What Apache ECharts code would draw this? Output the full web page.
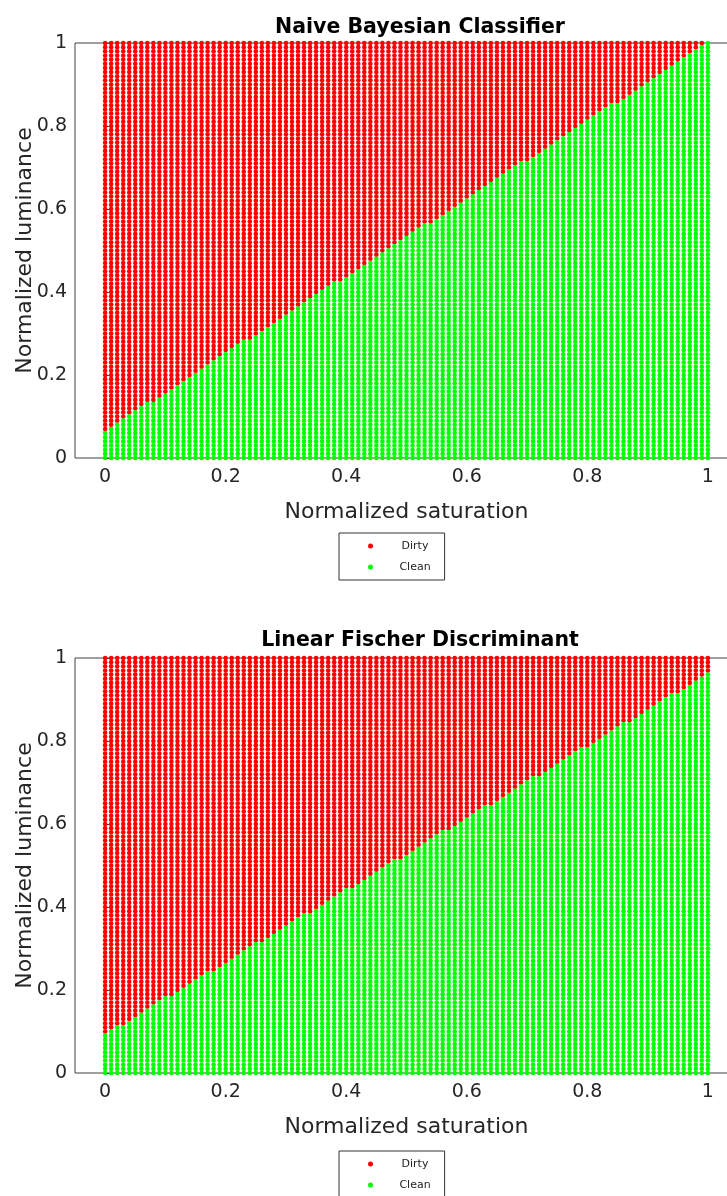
<!DOCTYPE html>
<html>
<head>
<meta charset="utf-8">
<script src="https://cdn.jsdelivr.net/npm/echarts@6/dist/echarts.min.js"></script>
<style>html,body{margin:0;padding:0;background:#fff}#c{width:727px;height:1196px}</style>
</head>
<body>
<div id="c"></div>
<script>
// Sampling grid of the feature space (normalized saturation / luminance)
const saturationGrid = [0,0.01,0.02,0.03,0.04,0.05,0.06,0.07,0.08,0.09,0.1,0.11,0.12,0.13,0.14,0.15,0.16,0.17,0.18,0.19,0.2,0.21,0.22,0.23,0.24,0.25,0.26,0.27,0.28,0.29,0.3,0.31,0.32,0.33,0.34,0.35,0.36,0.37,0.38,0.39,0.4,0.41,0.42,0.43,0.44,0.45,0.46,0.47,0.48,0.49,0.5,0.51,0.52,0.53,0.54,0.55,0.56,0.57,0.58,0.59,0.6,0.61,0.62,0.63,0.64,0.65,0.66,0.67,0.68,0.69,0.7,0.71,0.72,0.73,0.74,0.75,0.76,0.77,0.78,0.79,0.8,0.81,0.82,0.83,0.84,0.85,0.86,0.87,0.88,0.89,0.9,0.91,0.92,0.93,0.94,0.95,0.96,0.97,0.98,0.99,1];
const luminanceGrid = [0,0.01,0.02,0.03,0.04,0.05,0.06,0.07,0.08,0.09,0.1,0.11,0.12,0.13,0.14,0.15,0.16,0.17,0.18,0.19,0.2,0.21,0.22,0.23,0.24,0.25,0.26,0.27,0.28,0.29,0.3,0.31,0.32,0.33,0.34,0.35,0.36,0.37,0.38,0.39,0.4,0.41,0.42,0.43,0.44,0.45,0.46,0.47,0.48,0.49,0.5,0.51,0.52,0.53,0.54,0.55,0.56,0.57,0.58,0.59,0.6,0.61,0.62,0.63,0.64,0.65,0.66,0.67,0.68,0.69,0.7,0.71,0.72,0.73,0.74,0.75,0.76,0.77,0.78,0.79,0.8,0.81,0.82,0.83,0.84,0.85,0.86,0.87,0.88,0.89,0.9,0.91,0.92,0.93,0.94,0.95,0.96,0.97,0.98,0.99,1];
const xTickValues = [0,0.2,0.4,0.6,0.8,1];
const classNames = ['Dirty','Clean'];
const chartTitles = ['Naive Bayesian Classifier','Linear Fischer Discriminant'];
const xAxisTitle = 'Normalized saturation';
const yAxisTitle = 'Normalized luminance';
// Highest luminance (in hundredths) classified "Clean", per saturation column
const nbCleanTop = [6,7,8,9,10,11,12,13,13,14,15,16,17,18,19,20,21,22,23,24,25,26,27,28,28,29,30,31,32,33,34,35,36,37,38,39,40,41,42,42,43,44,45,46,47,48,49,50,51,52,53,54,55,56,56,57,58,59,60,61,62,63,64,65,66,67,68,69,70,71,71,72,73,74,75,76,77,78,79,80,81,82,83,84,85,85,86,87,88,89,90,91,92,93,94,95,96,97,98,99,100];
const lfdCleanTop = [9,10,11,11,12,13,14,15,16,17,18,18,19,20,21,22,23,24,24,25,26,27,28,29,30,31,31,32,33,34,35,36,37,38,38,39,40,41,42,43,44,44,45,46,47,48,49,50,51,51,52,53,54,55,56,57,58,58,59,60,61,62,63,64,64,65,66,67,68,69,70,71,71,72,73,74,75,76,77,78,78,79,80,81,82,83,84,84,85,86,87,88,89,90,91,91,92,93,94,95,96];

function splitPoints(cleanTop) {
  const dirty = [], clean = [];
  saturationGrid.forEach((s, i) => {
    luminanceGrid.forEach((l, j) => {
      if (j <= cleanTop[i]) clean.push([s, l]); else dirty.push([s, l]);
    });
  });
  return {dirty, clean};
}
const nb = splitPoints(nbCleanTop);
const lfd = splitPoints(lfdCleanTop);

const FONT = 'DejaVu Sans';
const TXT = '#262626';
const AXC = '#404040';
function grid(top) {
  return {left: 75, top: top, width: 663, height: 415, show: true, borderColor: AXC, borderWidth: 1,
    backgroundColor: 'transparent', containLabel: false, outerBoundsMode: 'none'};
}
function xAx(idx) {
  return {
    gridIndex: idx, type: 'value', min: -0.05, max: 1.05,
    name: xAxisTitle, nameLocation: 'middle', nameGap: 43, nameMoveOverlap: false,
    nameTextStyle: {fontFamily: FONT, fontSize: 22, color: TXT},
    axisLine: {show: false}, splitLine: {show: false},
    axisTick: {show: true, inside: true, length: 7, lineStyle: {color: AXC}, customValues: xTickValues},
    axisLabel: {fontFamily: FONT, fontSize: 19, color: TXT, margin: 10, customValues: xTickValues,
      formatter: v => String(v)}
  };
}
function yAx(idx) {
  return {
    gridIndex: idx, type: 'value', min: 0, max: 1, interval: 0.2,
    name: yAxisTitle, nameLocation: 'middle', nameGap: 39, nameMoveOverlap: false,
    nameTextStyle: {fontFamily: FONT, fontSize: 22, color: TXT},
    axisLine: {show: false}, splitLine: {show: false},
    axisTick: {show: true, inside: true, length: 7, lineStyle: {color: AXC}},
    axisLabel: {fontFamily: FONT, fontSize: 19, color: TXT, margin: 8, formatter: v => String(v)}
  };
}
function legend(top) {
  return {
    show: true, orient: 'vertical', left: 339, top: top, height: 40,
    data: classNames, icon: 'circle', itemWidth: 5, itemHeight: 5, itemGap: 10,
    padding: [7.5, 14, 7.5, 29], borderColor: '#333', borderWidth: 1, backgroundColor: '#fff',
    formatter: n => '{t|' + n + '}',
    textStyle: {fontFamily: FONT, fontSize: 11, color: '#222',
      rich: {t: {fontFamily: FONT, fontSize: 11, color: '#222', width: 50, align: 'center', padding: [0, 0, 0, 12]}}},
    selectedMode: false
  };
}
function scatter(name, data, idx, color) {
  return {
    type: 'scatter', name: name, data: data, xAxisIndex: idx, yAxisIndex: idx,
    symbol: 'circle', symbolSize: 4.6, silent: true, progressive: 0, large: false,
    itemStyle: {color: color, opacity: 1}
  };
}

const chart = echarts.init(document.getElementById('c'), null, {renderer: 'canvas'});
chart.setOption({
  animation: false,
  backgroundColor: '#fff',
  title: [
    {text: chartTitles[0], left: 415, top: 12, textAlign: 'center',
      textStyle: {fontFamily: FONT, fontWeight: 'bold', fontSize: 20.5, color: '#000'}},
    {text: chartTitles[1], left: 415, top: 625, textAlign: 'center',
      textStyle: {fontFamily: FONT, fontWeight: 'bold', fontSize: 20.5, color: '#000'}}
  ],
  grid: [grid(43), grid(658)],
  xAxis: [xAx(0), xAx(1)],
  yAxis: [yAx(0), yAx(1)],
  legend: [legend(533), legend(1151)],
  series: [
    scatter(classNames[0], nb.dirty, 0, '#ff0000'),
    scatter(classNames[1], nb.clean, 0, '#00ff00'),
    scatter(classNames[0], lfd.dirty, 1, '#ff0000'),
    scatter(classNames[1], lfd.clean, 1, '#00ff00')
  ]
});
</script>
</body>
</html>
